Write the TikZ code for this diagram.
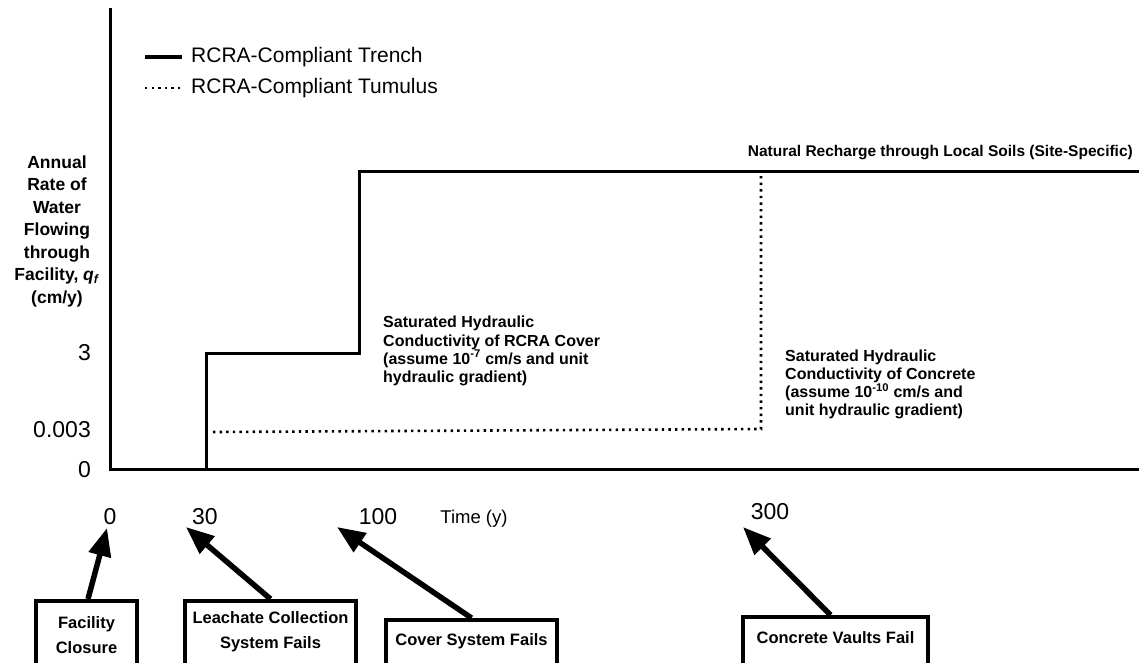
\documentclass[tikz,border=0pt]{standalone}
\usepackage{fontspec}
\setmainfont{Liberation Sans}
\usetikzlibrary{arrows.meta}

\tikzset{
  axisline/.style={line width=3pt},
  trench/.style={line width=3pt, line join=miter},
  tumulus/.style={line width=2.6pt, dash pattern=on 2.4pt off 4.2pt},
  evframe/.style={draw, line width=4pt, inner sep=0pt},
  evtext/.style={align=center, inner sep=0pt,
    font=\fontsize{16.5}{25}\selectfont\bfseries},
  evarrow/.style={line width=5.5pt, -{Triangle[length=28pt,width=22pt]}},
  ticklbl/.style={font=\fontsize{23}{25}\selectfont, inner sep=0pt},
  note/.style={font=\fontsize{16}{18.2}\selectfont\bfseries, align=left, inner sep=0pt},
  legendtxt/.style={font=\fontsize{21}{24}\selectfont, anchor=west, inner sep=0pt}
}

\begin{document}
\begin{tikzpicture}[x=1pt, y=-1pt]
\useasboundingbox[fill=white] (0,0) rectangle (1139,662);

% axes
\draw[axisline] (110,8) -- (110,469) -- (1139,469);

% legend
\draw[trench, line width=3.5pt] (145,57) -- (182,57);
\node[legendtxt] (legA) at (191,57) {RCRA-Compliant Trench};
\draw[tumulus] (145,88) -- (181,88);
\node[legendtxt] (legB) at (191,88) {RCRA-Compliant Tumulus};

% vertical axis title
\node[font=\fontsize{17.5}{22.5}\selectfont\bfseries, align=center, inner sep=0pt] (ylab) at (57,231)
  {Annual\\Rate of\\Water\\Flowing\\through\\Facility, \textit{q}\textsubscript{\textit{f}}\\(cm/y)};

% vertical tick labels
\node[ticklbl, anchor=east] (y3) at (91,353) {3};
\node[ticklbl, anchor=east] (y0003) at (91,430) {0.003};
\node[ticklbl, anchor=east] (y0) at (91,470) {0};

% horizontal tick labels
\node[ticklbl] (x0) at (110,517) {0};
\node[ticklbl] (x30) at (205,517) {30};
\node[ticklbl] (x100) at (378,517) {100};
\node[font=\fontsize{18.5}{20}\selectfont, inner sep=0pt] (xt) at (474,519) {Time (y)};
\node[ticklbl] (x300) at (770,512) {300};

% trench curve
\draw[trench] (206,469) -- (206,353) -- (359,353) -- (359,171) -- (1139,171);
% tumulus curve
\draw[tumulus] (213,432) -- (761,429) -- (761,172);

% annotations
\node[font=\fontsize{15.5}{18}\selectfont\bfseries, anchor=east, inner sep=0pt] (nat) at (1133,153)
  {Natural Recharge through Local Soils (Site-Specific)};
\node[note, anchor=west] (cov) at (383,351)
  {Saturated Hydraulic\\Conductivity of RCRA Cover\\(assume 10\textsuperscript{-7} cm/s and unit\\hydraulic gradient)};
\node[note, anchor=west] (con) at (785,384.5)
  {Saturated Hydraulic\\Conductivity of Concrete\\(assume 10\textsuperscript{-10} cm/s and\\unit hydraulic gradient)};

% event boxes (their lower edges run past the bottom of the page)
\node[evframe, minimum width=101pt, minimum height=68pt] (fc) at (86.5,635) {};
\node[evtext] (fct) at (86.5,635) {Facility\\Closure};
\node[evframe, minimum width=171pt, minimum height=68pt] (lc) at (270.5,635) {};
\node[evtext] (lct) at (270.5,632) {Leachate Collection\\System Fails};
\node[evframe, minimum width=171pt, minimum height=49pt] (cs) at (471.5,644.5) {};
\node[evtext] (cst) at (471.5,641) {Cover System Fails};
\node[evframe, minimum width=185pt, minimum height=52pt] (cv) at (835.5,643) {};
\node[evtext] (cvt) at (835.5,638) {Concrete Vaults Fail};

% arrow targets
\coordinate (t0) at (107,528);
\coordinate (t30) at (186,527);
\coordinate (t100) at (337,527);
\coordinate (t300) at (743,527);

\draw[evarrow] ([xshift=1.5pt]fc.north) -- (t0);
\draw[evarrow] (lc.north) -- (t30);
\draw[evarrow] (cs.north) -- (t100);
\draw[evarrow] ([xshift=-5pt]cv.north) -- (t300);
\end{tikzpicture}
\end{document}
